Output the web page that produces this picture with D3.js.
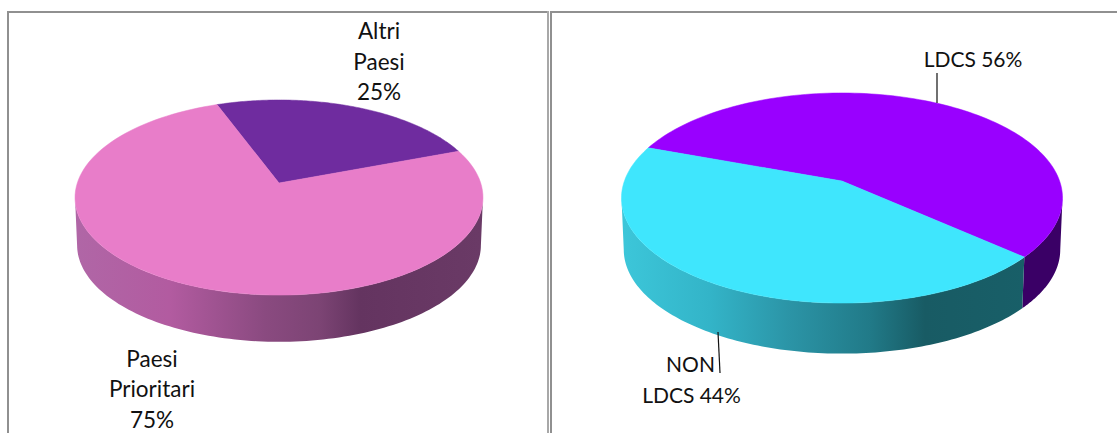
<!DOCTYPE html>
<html>
<head>
<meta charset="utf-8">
<script src="https://cdn.jsdelivr.net/npm/d3@7"></script>
<style>
  html, body { margin: 0; padding: 0; background: #fff; overflow: hidden; }
  svg { display: block; }
  text { font-family: Lato, sans-serif; font-size: 21px; fill: #111; text-anchor: middle; }
  text.big { font-size: 22.5px; }
</style>
</head>
<body>
<div id="chart"></div>
<script>
// Data
const leftCategories = ["Altri Paesi", "Paesi Prioritari"];
const leftValues = [25, 75];
const rightCategories = ["LDCS", "NON LDCS"];
const rightValues = [56, 44];

const width = 1117;
const height = 433;
const deg = Math.PI / 180;

const svg = d3.select("#chart").append("svg")
  .attr("width", width)
  .attr("height", height);

const defs = svg.append("defs");

// Table borders behind the charts
const borders = svg.append("g").attr("fill", "#909090");
borders.append("rect").attr("x", 7).attr("y", 11).attr("width", 542).attr("height", 2);
borders.append("rect").attr("x", 7).attr("y", 11).attr("width", 2).attr("height", height);
borders.append("rect").attr("x", 547).attr("y", 11).attr("width", 2).attr("height", height).attr("fill", "#a8a8a8");
borders.append("rect").attr("x", 550).attr("y", 11).attr("width", width - 550).attr("height", 2);
borders.append("rect").attr("x", 550).attr("y", 11).attr("width", 2).attr("height", height);

// 3d pie: a circle seen in perspective, so the apex sits above the middle of the ellipse
function drawPie(cfg) {
  const g = svg.append("g");
  const slices = d3.pie().sort(null)
    .startAngle(cfg.start * deg)
    .endAngle((cfg.start + 360) * deg)(cfg.values);

  const project = (a, scale, drop) => {
    const u = Math.sin(a) * scale;
    const v = -Math.cos(a) * scale;
    const w = 1 - cfg.k * v;
    return [cfg.cx + cfg.R * u / w, cfg.cy + cfg.B * v / w + drop];
  };
  const path = d3.line();
  const sample = (a0, a1, scale, drop) =>
    d3.range(0, 121).map(i => project(a0 + (a1 - a0) * i / 120, scale, drop));

  // only the front part of the rim shows a wall
  const edge = Math.acos(-cfg.k);

  // walls
  slices.forEach((s, i) => {
    // the slice can wrap past 360, look at both turns
    [0, -2 * Math.PI, 2 * Math.PI].forEach(turn => {
      const a0 = Math.max(s.startAngle + turn, edge);
      const a1 = Math.min(s.endAngle + turn, 2 * Math.PI - edge);
      if (a1 <= a0) return;
      const pts = sample(a0, a1, 1, 0).concat(sample(a1, a0, cfg.bottomScale, cfg.depth));
      let fill = cfg.wallColors[i];
      if (Array.isArray(fill)) {
        const id = "wall" + cfg.cx + i;
        const grad = defs.append("linearGradient").attr("id", id)
          .attr("gradientUnits", "userSpaceOnUse")
          .attr("x1", fill[0].x).attr("x2", fill[fill.length - 1].x)
          .attr("y1", 0).attr("y2", 0);
        const span = fill[fill.length - 1].x - fill[0].x;
        grad.selectAll("stop").data(fill).enter().append("stop")
          .attr("offset", d => (d.x - fill[0].x) / span)
          .attr("stop-color", d => d.c);
        fill = "url(#" + id + ")";
      }
      g.append("path").attr("d", path(pts) + "Z").attr("fill", fill);
    });
  });

  // top face
  slices.forEach((s, i) => {
    const pts = [[cfg.cx, cfg.cy]].concat(sample(s.startAngle, s.endAngle, 1, 0));
    g.append("path")
      .attr("d", path(pts) + "Z")
      .attr("fill", cfg.topColors[i])
      .attr("stroke", cfg.topColors[i])
      .attr("stroke-width", 0.5);
  });
}

drawPie({
  values: leftValues,
  cx: 279, cy: 183, R: 201.7, B: 95.4, k: 0.149,
  start: -20.5, depth: 48, bottomScale: 0.99,
  topColors: ["#6f2c9f", "#e87dc9"],
  wallColors: ["#5a2a80", [
    {x: 78, c: "#b066a6"}, {x: 170, c: "#b25ba0"}, {x: 265, c: "#8a4a80"},
    {x: 320, c: "#7c4474"}, {x: 360, c: "#643460"}, {x: 480, c: "#6a3a66"}
  ]]
});

drawPie({
  values: rightValues,
  cx: 842, cy: 181, R: 217.6, B: 102.3, k: 0.162,
  start: -70, depth: 52, bottomScale: 0.99,
  topColors: ["#9900ff", "#3fe6fd"],
  wallColors: ["#3a0066", [
    {x: 624, c: "#3cc6d9"}, {x: 710, c: "#33b4c8"}, {x: 790, c: "#2b94a6"},
    {x: 870, c: "#217a88"}, {x: 925, c: "#185b64"}, {x: 1026, c: "#185f68"}
  ]]
});

// Leader lines
svg.append("line").attr("x1", 937).attr("y1", 73).attr("x2", 937).attr("y2", 103)
  .attr("stroke", "#111").attr("stroke-width", 1.2);
svg.append("line").attr("x1", 718).attr("y1", 332).attr("x2", 720).attr("y2", 373)
  .attr("stroke", "#111").attr("stroke-width", 1.2);

// Labels
const labels = [
  {x: 379, y: 39, t: "Altri", big: true},
  {x: 379, y: 70, t: "Paesi", big: true},
  {x: 379, y: 100, t: leftValues[0] + "%", big: true},
  {x: 152, y: 367, t: "Paesi", big: true},
  {x: 152, y: 397, t: "Prioritari", big: true},
  {x: 152, y: 428, t: leftValues[1] + "%", big: true},
  {x: 973, y: 67, t: rightCategories[0] + " " + rightValues[0] + "%"},
  {x: 690.5, y: 372, t: "NON"},
  {x: 691.5, y: 403, t: "LDCS " + rightValues[1] + "%"}
];
svg.selectAll("text.label").data(labels).enter().append("text")
  .attr("class", d => d.big ? "label big" : "label")
  .attr("x", d => d.x)
  .attr("y", d => d.y)
  .text(d => d.t);
</script>
</body>
</html>
